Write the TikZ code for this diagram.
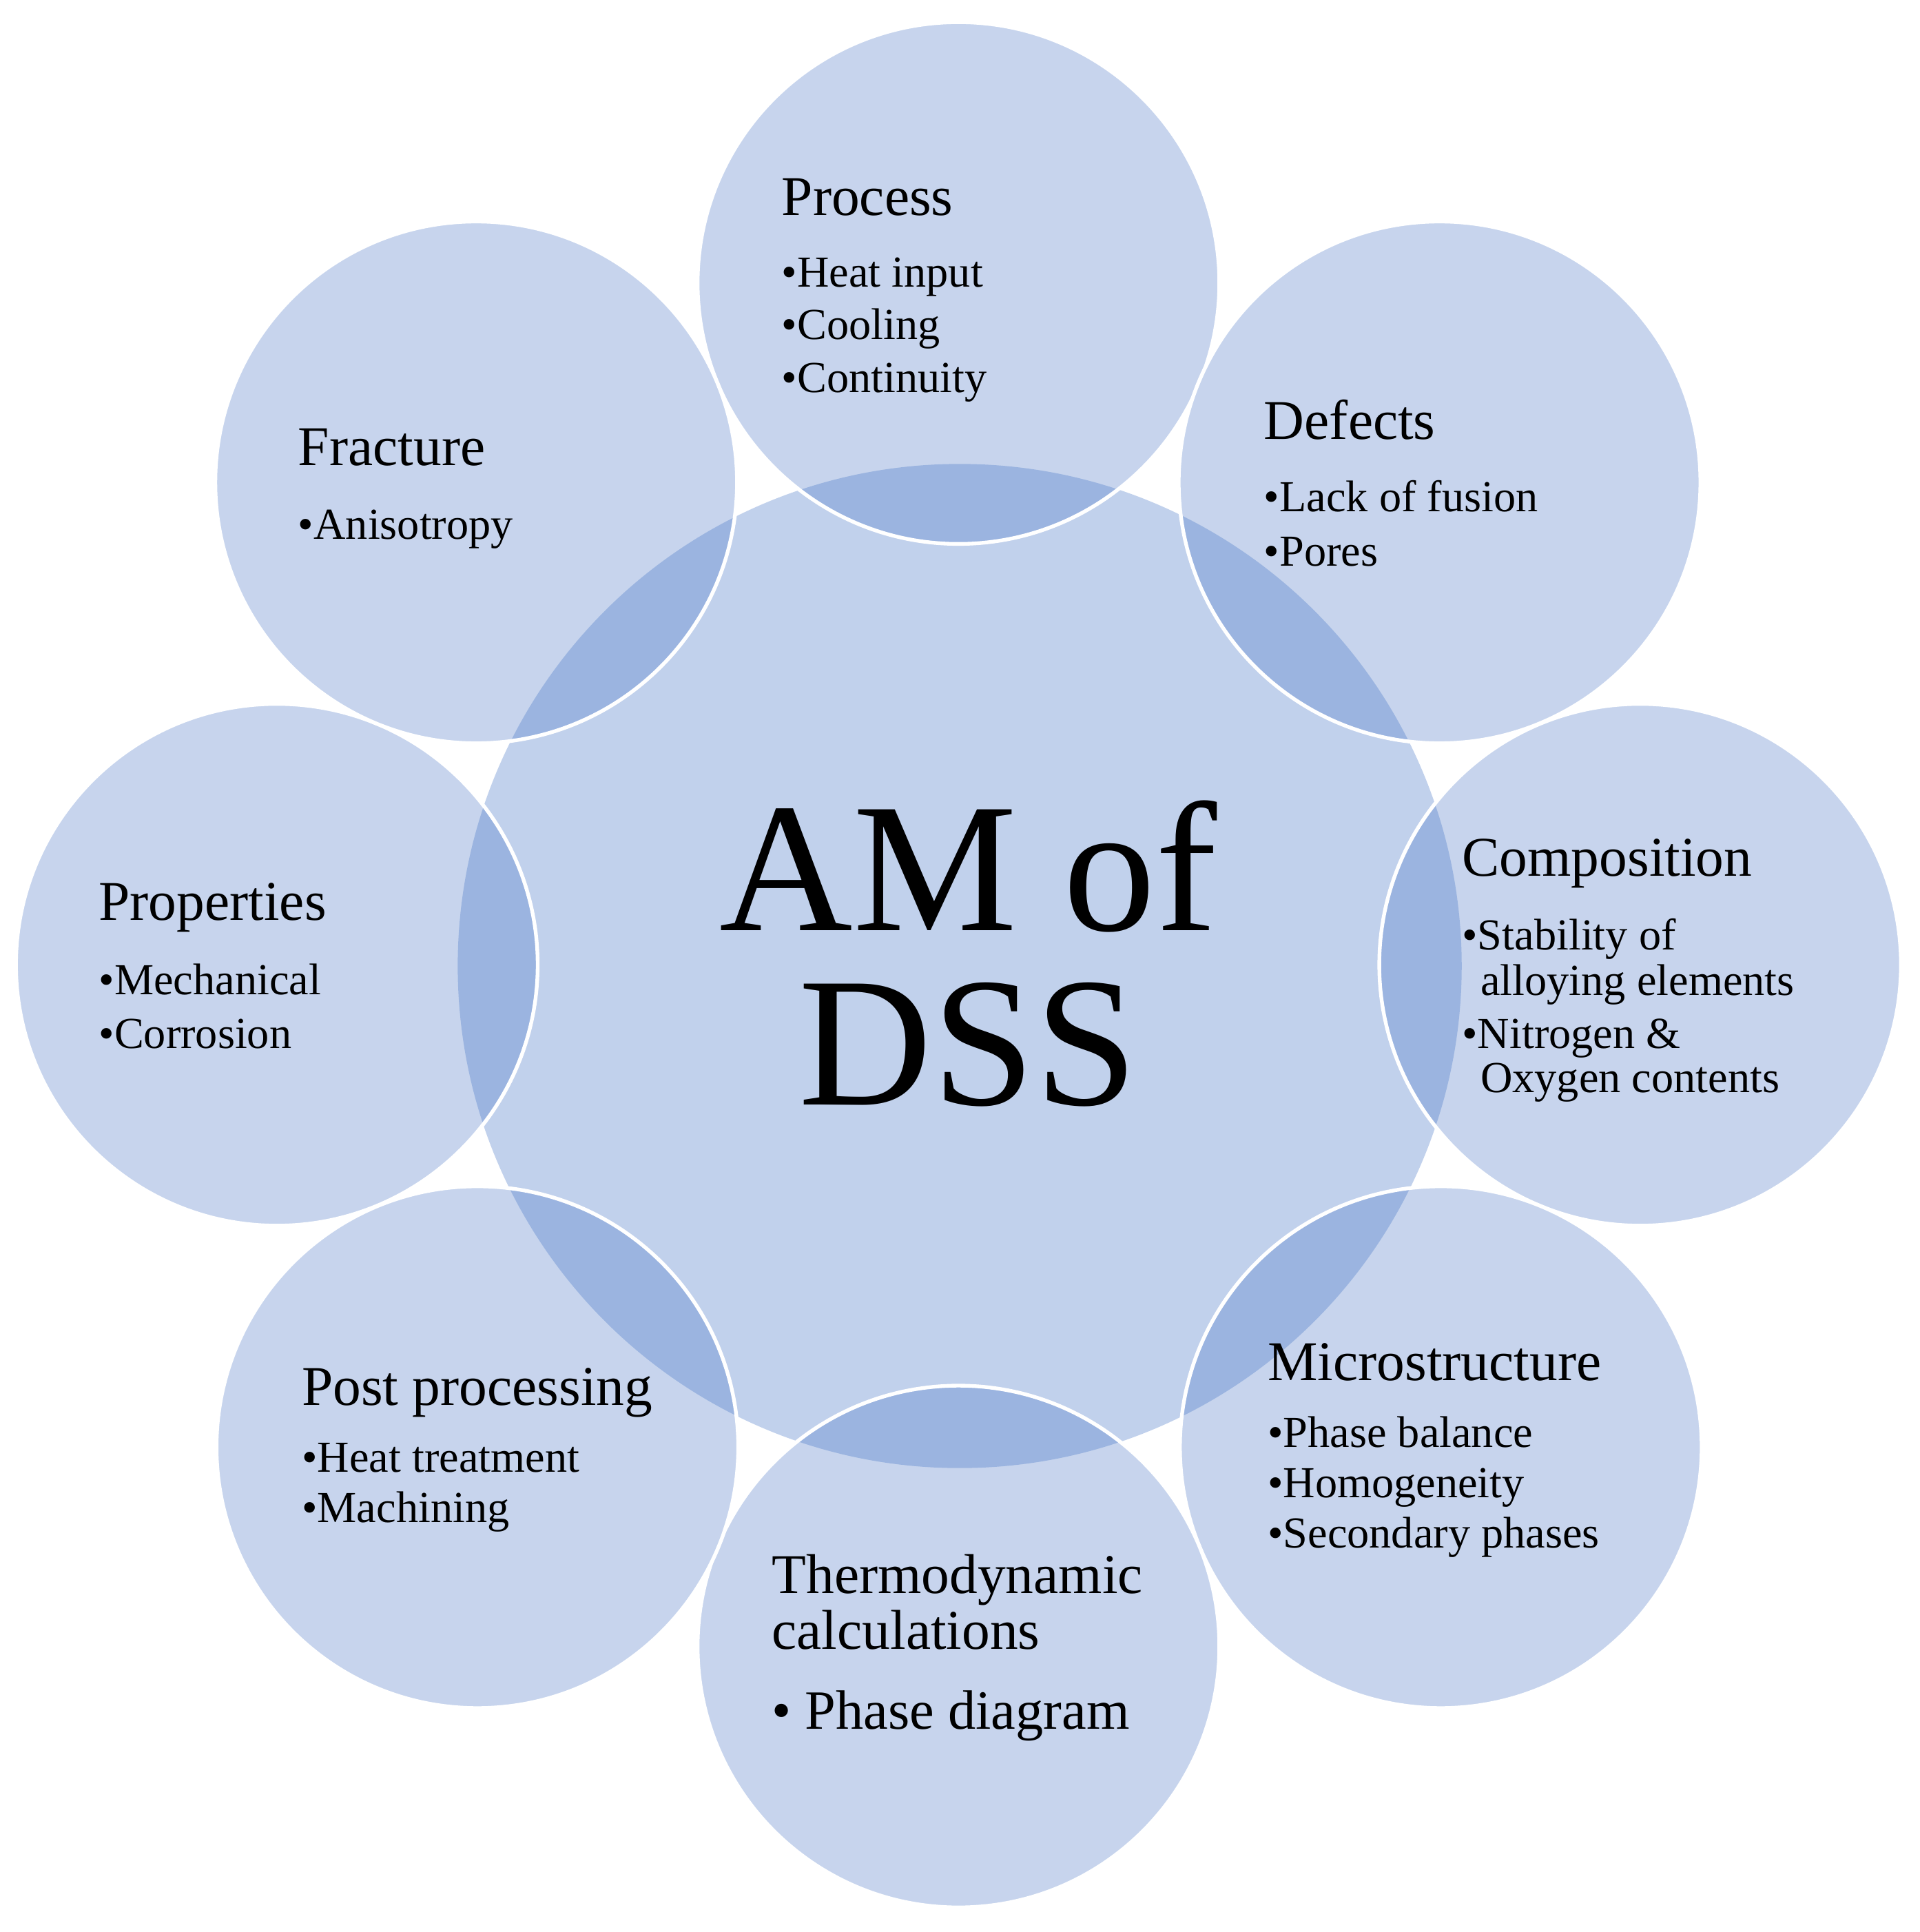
\documentclass[tikz,border=0pt]{standalone}
\usepackage{fontspec}
\setmainfont{Liberation Serif}
\begin{document}
\begin{tikzpicture}[x=0.5pt,y=-0.5pt,
  sat/.style={circle,minimum size=424pt*0.5,inner sep=0,fill={rgb,255:red,68;green,114;blue,196},fill opacity=0.3,draw=white,line width=1.5pt,draw opacity=1},
  hub/.style={circle,minimum size=816pt*0.5,inner sep=0,fill={rgb,255:red,68;green,114;blue,196},fill opacity=0.33,draw=none},
  hd/.style={anchor=base west,inner sep=0,font=\fontsize{22.8}{26}\selectfont},
  bl/.style={anchor=base west,inner sep=0,font=\fontsize{18}{21}\selectfont},
  big/.style={align=center,inner sep=0,font=\fontsize{75}{79}\selectfont}]
\useasboundingbox (0,0) rectangle (1560,1570);
\node[hub] (c) at (780,785) {};
\node[sat] (p1) at (779,230) {};
\node[sat] (p2) at (1170,392) {};
\node[sat] (p3) at (1333,784) {};
\node[sat] (p4) at (1171,1176) {};
\node[sat] (p5) at (779,1338) {};
\node[sat] (p6) at (388,1176) {};
\node[sat] (p7) at (225,784) {};
\node[sat] (p8) at (387,392) {};
\node[big] (t) at (787,775) {AM of\\[-8pt]DSS};
% Process
\node[hd] (h1) at (635,175) {Process};
\node[bl] (b11) at (635,233) {\textbullet Heat input};
\node[bl] (b12) at (635,276) {\textbullet Cooling};
\node[bl] (b13) at (635,319) {\textbullet Continuity};
% Defects
\node[hd] (h2) at (1027,357) {Defects};
\node[bl] (b21) at (1027,416) {\textbullet Lack of fusion};
\node[bl] (b22) at (1027,460) {\textbullet Pores};
% Composition
\node[hd] (h3) at (1188,712) {Composition};
\node[bl] (b31) at (1188,772) {\textbullet Stability of};
\node[bl] (b32) at (1203,809) {alloying elements};
\node[bl] (b33) at (1188,852) {\textbullet Nitrogen \&};
\node[bl] (b34) at (1203,888) {Oxygen contents};
% Microstructure
\node[hd] (h4) at (1030,1122) {Microstructure};
\node[bl] (b41) at (1030,1176) {\textbullet Phase balance};
\node[bl] (b42) at (1030,1217) {\textbullet Homogeneity};
\node[bl] (b43) at (1030,1258) {\textbullet Secondary phases};
% Thermo
\node[hd] (h5) at (627,1295) {Thermodynamic};
\node[hd] (h5b) at (627,1340) {calculations};
\node[bl,font=\fontsize{22.5}{26}\selectfont] (b51) at (627,1405) {\textbullet\ Phase diagram};
% Post processing
\node[hd] (h6) at (245,1142) {Post processing};
\node[bl] (b61) at (245,1196) {\textbullet Heat treatment};
\node[bl] (b62) at (245,1237) {\textbullet Machining};
% Properties
\node[hd] (h7) at (80,748) {Properties};
\node[bl] (b71) at (80,808) {\textbullet Mechanical};
\node[bl] (b72) at (80,852) {\textbullet Corrosion};
% Fracture
\node[hd] (h8) at (242,378) {Fracture};
\node[bl] (b81) at (242,438) {\textbullet Anisotropy};
\end{tikzpicture}
\end{document}
